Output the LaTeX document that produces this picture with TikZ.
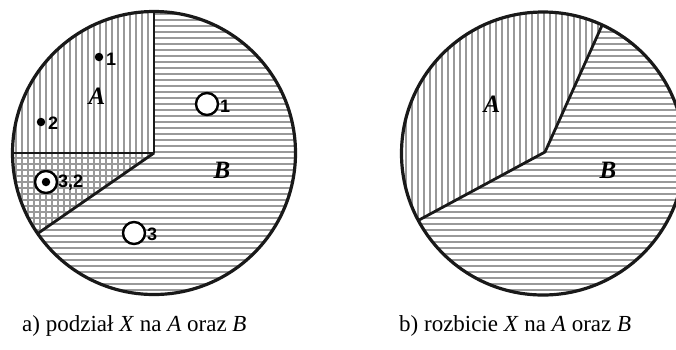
\documentclass[tikz,border=0pt]{standalone}
\usepackage{fontspec}
\setmainfont{Liberation Serif}
\newfontfamily\ptfont{Liberation Sans}
\begin{document}
\begin{tikzpicture}[x=1pt,y=-1pt,
  outline/.style={line width=3.2pt,black!90},
  divline/.style={line width=2.8pt,black!90,line join=round},
  hatchline/.style={line width=1.1pt,black!40},
  setlabel/.style={font=\fontsize{25}{28}\selectfont\bfseries\itshape,inner sep=0pt},
  ptlabel/.style={font=\ptfont\fontsize{18}{20}\selectfont\bfseries,inner sep=0pt,anchor=west},
  opencirc/.style={circle,draw,line width=2.4pt,fill=white,minimum size=22pt,inner sep=0pt},
  dot/.style={circle,fill=black,minimum size=8.5pt,inner sep=0pt},
  caption/.style={font=\fontsize{23}{26}\selectfont,inner sep=0pt,anchor=base west}]
\useasboundingbox (0,0) rectangle (676,349);
\fill[white] (0,0) rectangle (676,349);

% ---------- left circle ----------
\coordinate (cL) at (154,153);
\coordinate (tL) at (154,11.5);
\coordinate (lL) at (12.5,153);
\coordinate (llL) at (37.7,233.5);
% region B (horizontal hatching)
\begin{scope}
  \clip (cL) -- (lL) arc[start angle=180,end angle=-90,radius=141.5] -- cycle;
  \foreach \y in {8,14,...,300} \draw[hatchline] (0,\y) -- (320,\y);
\end{scope}
% region A (vertical hatching)
\begin{scope}
  \clip (cL) -- (tL) arc[start angle=270,end angle=145.3,radius=141.5] -- cycle;
  \foreach \x in {10,16,...,160} \draw[hatchline] (\x,0) -- (\x,300);
\end{scope}
\draw[divline] (tL) -- (cL) -- (lL);
\draw[divline] (cL) -- (llL);
\draw[outline] (cL) circle[radius=141.5];

\node[setlabel] (labA1) at (97,96) {A};
\node[setlabel] (labB1) at (222,170) {B};

\node[dot] (d1) at (99,57) {};
\node[ptlabel] (d1l) at (106,59) {1};
\node[dot] (d2) at (41,122) {};
\node[ptlabel] (d2l) at (48,123) {2};
\node[opencirc] (o1) at (207,104) {};
\node[ptlabel] (o1l) at (220,106) {1};
\node[opencirc] (o3) at (134,233) {};
\node[ptlabel] (o3l) at (147,234) {3};
\node[opencirc] (o32) at (46,182) {};
\node[dot] (o32d) at (46,182) {};
\node[ptlabel] (o32l) at (58,183) {3,2};

% ---------- right circle ----------
\coordinate (cR) at (543,153.5);
\coordinate (tR) at (602.2,25);
\coordinate (mR) at (545,152);
\coordinate (llR) at (418.3,220.4);
\begin{scope}
  \clip (llR) arc[start angle=151.8,end angle=-65.3,radius=141.5] -- (mR) -- cycle;
  \foreach \y in {8,14,...,300} \draw[hatchline] (390,\y) -- (700,\y);
\end{scope}
\begin{scope}
  \clip (tR) arc[start angle=-65.3,end angle=-208.2,radius=141.5] -- (mR) -- cycle;
  \foreach \x in {400,406,...,620} \draw[hatchline] (\x,0) -- (\x,300);
\end{scope}
\draw[divline] (tR) -- (mR) -- (llR);
\draw[outline] (cR) circle[radius=141.5];

\node[setlabel] (labA2) at (492,104) {A};
\node[setlabel] (labB2) at (608,170) {B};

% ---------- captions ----------
\node[caption] (capa) at (22,331) {a) podział \textit{X} na \textit{A} oraz \textit{B}};
\node[caption] (capb) at (399,331) {b) rozbicie \textit{X} na \textit{A} oraz \textit{B}};
\end{tikzpicture}
\end{document}
